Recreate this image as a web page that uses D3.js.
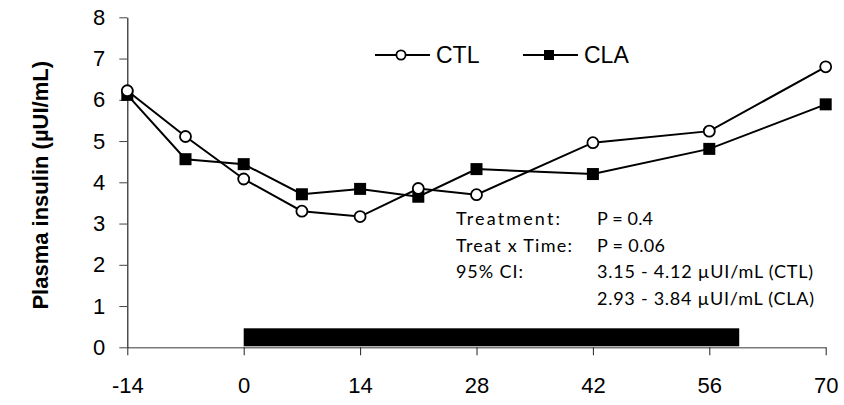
<!DOCTYPE html>
<html>
<head>
<meta charset="utf-8">
<script src="https://cdn.jsdelivr.net/npm/d3@7"></script>
<style>
  html, body { margin: 0; padding: 0; background: #fff; }
  svg { display: block; }
</style>
</head>
<body>
<svg id="chart" width="844" height="405"></svg>
<script>
// ---- Data ----
const days = [-14, -7, 0, 7, 14, 21, 28, 42, 56, 70];
const ctl = [6.22, 5.11, 4.08, 3.30, 3.17, 3.85, 3.70, 4.96, 5.24, 6.80];
const cla = [6.12, 4.56, 4.44, 3.71, 3.84, 3.65, 4.32, 4.20, 4.81, 5.89];
const xTicks = [-14, 0, 14, 28, 42, 56, 70];
const yTicks = [0, 1, 2, 3, 4, 5, 6, 7, 8];
const seriesNames = ["CTL", "CLA"];
const treatmentPeriod = [0, 59.6];
const yLabel = "Plasma insulin (\u00B5UI/mL)";
const statLabels = ["Treatment:", "Treat x Time:", "95% CI:", ""];
const statValues = ["P = 0.4", "P = 0.06", "3.15 - 4.12 \u00B5UI/mL (CTL)", "2.93 - 3.84 \u00B5UI/mL (CLA)"];

(function () {
// ---- Layout / style constants ----
const svg = d3.select("#chart");
const pLeft = 127.3, pRight = 825.7, pTop = 17.3, pBottom = 347.3;
const labelWidths = [104, 116, 67, 0];
const valueWidths = [56, 68, 216, 217];

const x = d3.scaleLinear().domain([-14, 70]).range([pLeft, pRight]);
const y = d3.scaleLinear().domain([0, 8]).range([pBottom, pTop]);

// Treatment bar
svg.append("rect")
  .attr("x", x(treatmentPeriod[0]))
  .attr("y", pBottom - 19)
  .attr("width", x(treatmentPeriod[1]) - x(treatmentPeriod[0]))
  .attr("height", 18)
  .attr("fill", "#000");

// X axis
const xAxis = svg.append("g")
  .attr("transform", `translate(0,${pBottom})`)
  .call(d3.axisBottom(x).tickValues(xTicks).tickSize(8).tickSizeOuter(0).tickPadding(22).tickFormat(d => String(d)));
xAxis.select(".domain").attr("stroke", "#7a7a7a").attr("stroke-width", 1.5);
xAxis.selectAll(".tick line").attr("stroke", "#222").attr("stroke-width", 1);
xAxis.selectAll(".tick text")
  .attr("font-family", "'Liberation Sans', Arial, sans-serif")
  .attr("font-size", 22).attr("fill", "#000");

// Y axis
const yAxis = svg.append("g")
  .attr("transform", `translate(${pLeft},0)`)
  .call(d3.axisLeft(y).tickValues(yTicks).tickSize(8).tickSizeOuter(0).tickPadding(14).tickFormat(d => String(d)));
yAxis.select(".domain").attr("stroke", "#222").attr("stroke-width", 1.2);
yAxis.selectAll(".tick line").attr("stroke", "#444").attr("stroke-width", 1);
yAxis.selectAll(".tick text")
  .attr("font-family", "'Liberation Sans', Arial, sans-serif")
  .attr("font-size", 22).attr("fill", "#000");

// Y label
svg.append("text")
  .attr("transform", `translate(48,${(pTop + pBottom) / 2 + 3}) rotate(-90)`)
  .attr("text-anchor", "middle")
  .attr("font-family", "'Liberation Sans', Arial, sans-serif")
  .attr("font-weight", "bold")
  .attr("font-size", 22)
  .text(yLabel);

// Lines
const line = d3.line().x((d, i) => x(days[i])).y(d => y(d));
svg.append("path").datum(ctl).attr("d", line).attr("fill", "none").attr("stroke", "#000").attr("stroke-width", 2);
svg.append("path").datum(cla).attr("d", line).attr("fill", "none").attr("stroke", "#000").attr("stroke-width", 2);

// Markers
svg.append("g").selectAll("rect").data(cla).join("rect")
  .attr("x", (d, i) => x(days[i]) - 6).attr("y", d => y(d) - 6)
  .attr("width", 12).attr("height", 12).attr("fill", "#000");
svg.append("g").selectAll("circle").data(ctl).join("circle")
  .attr("cx", (d, i) => x(days[i])).attr("cy", d => y(d))
  .attr("r", 5.5).attr("fill", "#fff").attr("stroke", "#000").attr("stroke-width", 1.8);

// Legend
const legY = 55;
const leg = svg.append("g");
leg.append("line").attr("x1", 375).attr("x2", 430).attr("y1", legY).attr("y2", legY).attr("stroke", "#000").attr("stroke-width", 2);
leg.append("circle").attr("cx", 401).attr("cy", legY).attr("r", 4.6).attr("fill", "#fff").attr("stroke", "#000").attr("stroke-width", 1.8);
leg.append("text").attr("x", 436).attr("y", legY + 8).attr("font-family", "'Liberation Sans', Arial, sans-serif").attr("font-size", 23).text(seriesNames[0]);
leg.append("line").attr("x1", 523).attr("x2", 578).attr("y1", legY).attr("y2", legY).attr("stroke", "#000").attr("stroke-width", 2);
leg.append("rect").attr("x", 544).attr("y", legY - 5).attr("width", 10).attr("height", 10).attr("fill", "#000");
leg.append("text").attr("x", 584).attr("y", legY + 8).attr("font-family", "'Liberation Sans', Arial, sans-serif").attr("font-size", 23).text(seriesNames[1]);

// Stats annotation
const ann = svg.append("g")
  .attr("font-family", "Lato, 'Open Sans', sans-serif")
  .attr("font-size", 18)
  .attr("fill", "#000");
const baseY = 225, lineH = 26.7;
statLabels.forEach((t, i) => {
  if (t) ann.append("text").attr("x", 456).attr("y", baseY + i * lineH)
    .attr("textLength", labelWidths[i]).attr("lengthAdjust", "spacing").text(t);
});
statValues.forEach((t, i) => {
  ann.append("text").attr("x", 597).attr("y", baseY + i * lineH)
    .attr("textLength", valueWidths[i]).attr("lengthAdjust", "spacing").text(t);
});
})();
</script>
</body>
</html>
